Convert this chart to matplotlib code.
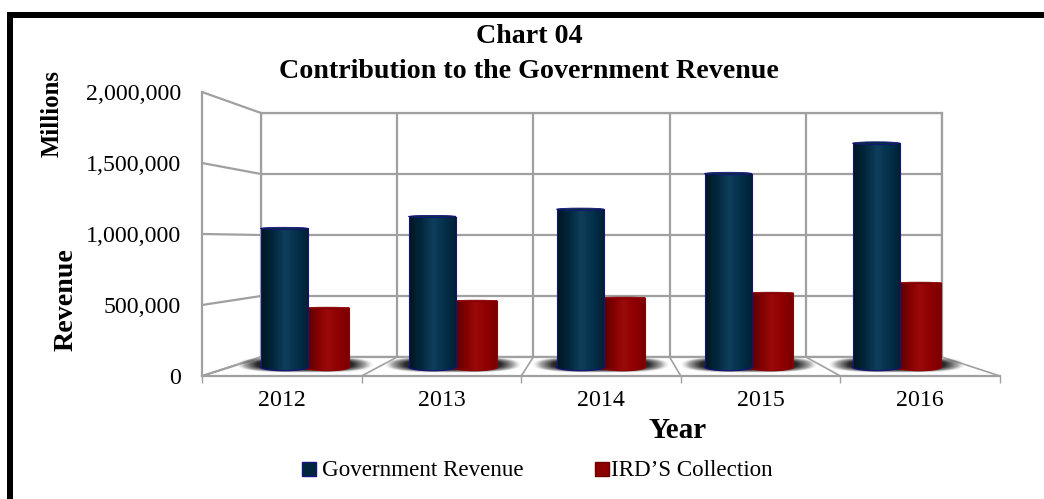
import numpy as np
import matplotlib
matplotlib.use('Agg')
import matplotlib.pyplot as plt
from matplotlib.colors import LinearSegmentedColormap
from matplotlib.patches import Ellipse, Rectangle

W, H = 1044, 499

years = ['2012', '2013', '2014', '2015', '2016']
gov_revenue = [1050000, 1140000, 1195000, 1465000, 1695000]
ird_collection = [447000, 500000, 523000, 560000, 636000]
y_ticks = [0, 500000, 1000000, 1500000, 2000000]

plt.rcParams['font.family'] = ['Liberation Serif', 'DejaVu Serif']
GRID = '#a0a0a0'
LW = 1.6


# axes placed by pixel box, top left origin
def box(x0, y0, x1, y1):
    return [x0 / W, 1 - y1 / H, (x1 - x0) / W, (y1 - y0) / H]


fig = plt.figure(figsize=(W / 100, H / 100), dpi=100)

# page layer, pixel coordinates
page = fig.add_axes([0, 0, 1, 1])
page.set_xlim(0, W)
page.set_ylim(H, 0)
page.axis('off')
page.add_patch(Rectangle((6.5, 11.5), W, 6, fc='black', ec='none'))
page.add_patch(Rectangle((6.5, 11.5), 6.2, H, fc='black', ec='none'))

# back wall with the grid
back = fig.add_axes(box(261, 113, 942, 357))
back.set_xlim(0, 5)
back.set_ylim(0, 2000000)
back.patch.set_alpha(0)
back.set_yticks(y_ticks)
back.set_xticks(range(6))
back.tick_params(left=False, bottom=False, labelleft=False, labelbottom=False)
back.grid(True, color=GRID, lw=LW)
for s in back.spines.values():
    s.set_color(GRID)
    s.set_linewidth(LW)

# front axis holds the ticks and labels
front = fig.add_axes(box(202, 92, 1000, 376))
front.set_xlim(0, 5)
front.set_ylim(0, 2000000)
front.patch.set_alpha(0)
front.spines['top'].set_visible(False)
front.spines['right'].set_visible(False)
front.spines['left'].set_color(GRID)
front.spines['bottom'].set_color(GRID)
front.spines['left'].set_linewidth(LW)
front.spines['bottom'].set_linewidth(LW)
front.set_yticks(y_ticks)
front.set_yticklabels([f'{v:,}' for v in y_ticks], fontsize=17.2)
front.set_xticks(range(6))
front.set_xticklabels([])
front.set_xticks(np.arange(5) + 0.5, minor=True)
front.set_xticklabels(years, minor=True, fontsize=17.2)
front.tick_params(axis='x', which='minor', length=0, pad=10)
front.tick_params(axis='x', which='major', length=5, color=GRID, width=1.0)
front.tick_params(axis='y', length=0, pad=15)

# depth lines joining front axis and back wall
for i in range(5):
    f = front.transData.transform([[0, y_ticks[i]]])[0]
    b = back.transData.transform([[0, y_ticks[i]]])[0]
    page.plot([f[0], b[0]], [H - f[1], H - b[1]], color=GRID, lw=LW, solid_capstyle='butt')
for i in range(6):
    f = front.transData.transform([[i, 0]])[0]
    b = back.transData.transform([[i, 0]])[0]
    page.plot([f[0], b[0]], [H - f[1], H - b[1]], color=GRID, lw=1.2, solid_capstyle='butt')

# bars sit halfway through the depth, axes run a bit under zero so the round bases show
bars = fig.add_axes(box(231, 103, 971, 367 + 150000 / 2000000 * 264))
bars.axis('off')
bars.patch.set_alpha(0)

gov_cmap = LinearSegmentedColormap.from_list('gov', ['#001622', '#02273c', '#0f3f5c', '#03304a', '#021f33'])
ird_cmap = LinearSegmentedColormap.from_list('ird', ['#4a0000', '#7e0000', '#9c0a0a', '#8e0000', '#7a0000'])
shadow_cmap = LinearSegmentedColormap.from_list(
    'shadow', [(0, 0, 0, 1), (0.08, 0.08, 0.08, 0.9), (0.4, 0.4, 0.4, 0.55), (1, 1, 1, 0)])

offs = np.arange(5) + 0.5

# floor shadows
u = np.linspace(-1, 1, 200)
xx, yy = np.meshgrid(u, u)
rr = np.clip(np.abs(xx) ** 3 + np.abs(yy) ** 2.5, 0, 1)
for c in offs:
    bars.imshow(rr, extent=[c - 0.47, c + 0.47, -45000, 80000], cmap=shadow_cmap, aspect='auto',
                vmin=0, vmax=1, zorder=1, interpolation='bilinear')

grad = np.linspace(0, 1, 128).reshape(1, -1)


def cylinder(x0, width, value, cmap, edge, lid, z):
    cap = 28000
    body = Rectangle((x0, 0), width, value, transform=bars.transData, fc='none', ec='none')
    bars.add_patch(body)
    bottom = Ellipse((x0 + width / 2, 0), width, cap * 2, fc='none', ec='none', zorder=z)
    bars.add_patch(bottom)
    for patch in (body, bottom):
        im = bars.imshow(grad, extent=[x0, x0 + width, -cap, value], cmap=cmap, aspect='auto', zorder=z,
                         interpolation='bilinear')
        im.set_clip_path(patch)
    # rim lines
    arc = np.linspace(0, np.pi, 40)
    bars.plot(x0 + width / 2 + width / 2 * np.cos(arc), -cap * np.sin(arc), color=edge, lw=0.9, zorder=z + 0.1)
    bars.plot([x0, x0], [0, value], color=edge, lw=0.8, zorder=z + 0.1)
    bars.plot([x0 + width, x0 + width], [0, value], color=edge, lw=0.8, zorder=z + 0.1)
    top = Ellipse((x0 + width / 2, value), width, 8000 + value * 0.008, fc=lid, ec=edge, lw=0.6, zorder=z + 0.2)
    bars.add_patch(top)


for i, c in enumerate(offs):
    cylinder(c - 0.30, 0.32, gov_revenue[i], gov_cmap, '#14147a', '#0a2a4a', 4)
    cylinder(c, 0.30, ird_collection[i], ird_cmap, '#8e0000', '#6e0000', 3)
bars.set_xlim(0, 5)
bars.set_ylim(-150000, 2000000)

# titles and labels
page.text(529, 36, 'Chart 04', ha='center', va='center', fontsize=20.2, fontweight='bold')
page.text(529, 71, 'Contribution to the Government Revenue', ha='center', va='center', fontsize=20.2, fontweight='bold')
page.text(52, 113, 'Millions', rotation=90, ha='center', va='center', fontsize=17.8, fontweight='bold')
page.text(66, 300, 'Revenue', rotation=90, ha='center', va='center', fontsize=20.2, fontweight='bold')
page.text(678, 431, 'Year', ha='center', va='center', fontsize=21, fontweight='bold')

# legend
page.add_patch(Rectangle((302, 462), 14, 14, fc='#02273c', ec='#14147a', lw=1))
page.text(322, 470, 'Government Revenue', va='center', fontsize=16.6)
page.add_patch(Rectangle((595, 462), 14, 14, fc='#8e0000', ec='#6e0000', lw=1))
page.text(611, 470, 'IRD\u2019S Collection', va='center', fontsize=16.6)

fig.savefig('out.png', dpi=100)
